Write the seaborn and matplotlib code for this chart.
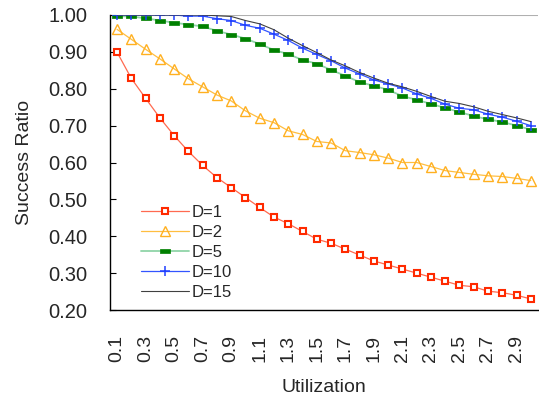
import numpy as np
import pandas as pd
import matplotlib
matplotlib.use("Agg")
import matplotlib.pyplot as plt
import seaborn as sns

# ---------------------------------------------
# Data
# ---------------------------------------------
utilization = [round(0.1 * i, 1) for i in range(1, 31)]
tick_labels = [f"{u:.1f}" if i % 2 == 0 else "" for i, u in enumerate(utilization)]

d1 = [0.899, 0.828, 0.774, 0.721, 0.673, 0.630, 0.592, 0.559, 0.532, 0.505,
      0.478, 0.452, 0.434, 0.413, 0.392, 0.381, 0.365, 0.349, 0.333, 0.322,
      0.311, 0.300, 0.289, 0.278, 0.267, 0.263, 0.251, 0.247, 0.240, 0.230]
d2 = [0.961, 0.934, 0.907, 0.881, 0.854, 0.827, 0.805, 0.783, 0.767, 0.740,
      0.720, 0.708, 0.686, 0.676, 0.657, 0.653, 0.632, 0.627, 0.621, 0.612,
      0.600, 0.600, 0.589, 0.578, 0.573, 0.568, 0.564, 0.562, 0.557, 0.551]
d5 = [0.997, 0.996, 0.991, 0.985, 0.979, 0.974, 0.969, 0.957, 0.947, 0.936,
      0.921, 0.905, 0.894, 0.878, 0.868, 0.851, 0.835, 0.818, 0.808, 0.797,
      0.780, 0.770, 0.759, 0.748, 0.737, 0.726, 0.717, 0.710, 0.700, 0.689]
d10 = [1.000, 1.000, 1.000, 1.000, 1.000, 0.997, 0.997, 0.990, 0.985, 0.972,
       0.964, 0.948, 0.931, 0.910, 0.893, 0.876, 0.856, 0.840, 0.824, 0.813,
       0.802, 0.786, 0.774, 0.758, 0.747, 0.743, 0.731, 0.723, 0.712, 0.700]
d15 = [1.000, 1.000, 1.000, 1.000, 1.000, 1.000, 1.000, 0.998, 0.996, 0.985,
       0.976, 0.960, 0.937, 0.917, 0.898, 0.878, 0.862, 0.844, 0.829, 0.815,
       0.805, 0.793, 0.779, 0.766, 0.760, 0.751, 0.739, 0.730, 0.721, 0.711]

series_names = ["D=1", "D=2", "D=5", "D=10", "D=15"]
series_values = [d1, d2, d5, d10, d15]

df = pd.DataFrame({
    "pos": np.tile(np.arange(len(utilization)), len(series_names)),
    "ratio": np.concatenate(series_values),
    "series": np.repeat(series_names, len(utilization)),
})

# ---------------------------------------------
# Styling per series
# ---------------------------------------------
flat_rect = [(-1, -0.4), (1, -0.4), (1, 0.4), (-1, 0.4), (-1, -0.4)]
styles = {
    "D=1": dict(color="#ff6a50", marker="s", markersize=4.5, markerfacecolor="white",
                markeredgecolor="#ff2a00", markeredgewidth=1.5, linewidth=0.9),
    "D=2": dict(color="#ffbe40", marker="^", markersize=6.5, markerfacecolor="none",
                markeredgecolor="#ffb020", markeredgewidth=1.0, linewidth=0.9),
    "D=5": dict(color="#90d4a8", marker=flat_rect, markersize=7.5, markerfacecolor="#008000",
                markeredgecolor="#008000", markeredgewidth=0.5, linewidth=1.3),
    "D=10": dict(color="#3355ff", marker="+", markersize=7, markeredgecolor="#2040ff",
                 markeredgewidth=1.1, linewidth=0.9),
    "D=15": dict(color="#404040", marker=None, linewidth=0.8),
}

# ---------------------------------------------
# Plot
# ---------------------------------------------
sns.set_style("white")
plt.rcParams["font.family"] = ["Liberation Sans", "DejaVu Sans"]

fig = plt.figure(figsize=(5.39, 4.0), dpi=100)
ax = fig.add_axes([0.204, 0.225, 0.794, 0.7375])

for name in series_names:
    sub = df[df["series"] == name]
    sns.lineplot(data=sub, x="pos", y="ratio", ax=ax, label=name, **styles[name])

ax.axhline(1.0, color="#b0b0b0", linewidth=1.5, zorder=0)

ax.set_xlim(-0.5, len(utilization) - 0.5)
ax.set_ylim(0.2, 1.0)
ax.set_yticks(np.arange(0.2, 1.001, 0.1))
ax.set_yticklabels([f"{v:.2f}" for v in np.arange(0.2, 1.001, 0.1)], fontsize=14.5)
ax.set_xticks(np.arange(len(utilization)))
ax.set_xticklabels(tick_labels, rotation=90, fontsize=14)
ax.set_xticks(np.arange(0.5, len(utilization) - 0.5, 1.0), minor=True)

ax.tick_params(axis="x", which="major", length=0, pad=18)
ax.tick_params(axis="x", which="minor", direction="in", length=4, width=0.8, color="black")
ax.tick_params(axis="y", direction="in", length=4, width=0.8, color="black", left=True, pad=16)

for side in ["top", "right"]:
    ax.spines[side].set_visible(False)
for side in ["left", "bottom"]:
    ax.spines[side].set_color("black")
    ax.spines[side].set_linewidth(1.0)

ax.set_xlabel("Utilization", fontsize=14, labelpad=12)
ax.set_ylabel("Success Ratio", fontsize=14, labelpad=11)

leg = ax.legend(loc="upper left", bbox_to_anchor=(0.072, 0.355), frameon=False,
                fontsize=12, handlelength=2.9, handletextpad=0.15,
                labelspacing=0.29, borderpad=0, borderaxespad=0)

fig.savefig("out.png", dpi=100)
